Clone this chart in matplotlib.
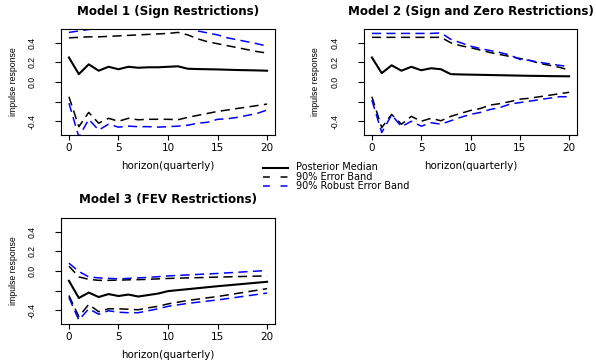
import numpy as np
from matplotlib import pyplot as plt
from matplotlib.lines import Line2D

plt.rcParams['font.family'] = ['DejaVu Sans']

horizon = np.arange(21)

# Model 1 (Sign Restrictions)
m1_median = [0.25, 0.08, 0.18, 0.115, 0.155, 0.13, 0.155, 0.145, 0.15, 0.15, 0.155,
             0.16, 0.135, 0.132, 0.13, 0.128, 0.125, 0.122, 0.12, 0.118, 0.115]
m1_upper = [0.45, 0.455, 0.46, 0.46, 0.465, 0.47, 0.475, 0.48, 0.485, 0.49, 0.495,
            0.505, 0.48, 0.44, 0.41, 0.39, 0.37, 0.35, 0.33, 0.31, 0.295]
m1_lower = [-0.15, -0.455, -0.31, -0.42, -0.37, -0.40, -0.37, -0.385, -0.38, -0.38, -0.38,
            -0.385, -0.36, -0.34, -0.32, -0.30, -0.285, -0.27, -0.255, -0.24, -0.225]
m1_rob_upper = [0.505, 0.52, 0.535, 0.55, 0.555, 0.56, 0.56, 0.565, 0.57, 0.57, 0.575,
                0.58, 0.57, 0.52, 0.5, 0.48, 0.45, 0.43, 0.41, 0.39, 0.365]
m1_rob_lower = [-0.215, -0.56, -0.38, -0.49, -0.43, -0.46, -0.45, -0.455, -0.455, -0.46, -0.455,
                -0.45, -0.44, -0.42, -0.41, -0.38, -0.375, -0.36, -0.34, -0.32, -0.285]

# Model 2 (Sign and Zero Restrictions)
m2_median = [0.25, 0.09, 0.17, 0.115, 0.155, 0.12, 0.14, 0.13, 0.08, 0.077, 0.075,
             0.073, 0.071, 0.069, 0.067, 0.065, 0.063, 0.062, 0.06, 0.059, 0.058]
m2_upper = [0.455, 0.455, 0.455, 0.455, 0.455, 0.455, 0.455, 0.455, 0.4, 0.37, 0.35,
            0.325, 0.3, 0.28, 0.26, 0.24, 0.22, 0.19, 0.17, 0.15, 0.122]
m2_lower = [-0.15, -0.465, -0.33, -0.43, -0.35, -0.40, -0.37, -0.395, -0.35, -0.32, -0.29,
            -0.27, -0.235, -0.22, -0.2, -0.175, -0.165, -0.15, -0.135, -0.12, -0.105]
m2_rob_upper = [0.495, 0.495, 0.495, 0.495, 0.495, 0.495, 0.495, 0.5, 0.435, 0.4, 0.366,
                0.34, 0.32, 0.3, 0.275, 0.23, 0.22, 0.2, 0.185, 0.17, 0.156]
m2_rob_lower = [-0.185, -0.515, -0.335, -0.455, -0.4, -0.45, -0.415, -0.43, -0.395, -0.36, -0.33,
                -0.31, -0.28, -0.26, -0.225, -0.21, -0.195, -0.18, -0.165, -0.15, -0.15]

# Model 3 (FEV Restrictions)
m3_median = [-0.1, -0.275, -0.22, -0.265, -0.235, -0.255, -0.24, -0.26, -0.245, -0.23, -0.205,
             -0.195, -0.185, -0.175, -0.165, -0.155, -0.146, -0.137, -0.128, -0.119, -0.11]
m3_upper = [0.05, -0.06, -0.085, -0.095, -0.095, -0.093, -0.09, -0.088, -0.085, -0.08, -0.076,
            -0.073, -0.07, -0.068, -0.065, -0.062, -0.06, -0.057, -0.055, -0.052, -0.05]
m3_lower = [-0.25, -0.465, -0.34, -0.415, -0.385, -0.385, -0.39, -0.395, -0.375, -0.36, -0.335,
            -0.318, -0.3, -0.287, -0.273, -0.26, -0.244, -0.228, -0.212, -0.196, -0.18]
m3_rob_upper = [0.08, -0.005, -0.06, -0.07, -0.075, -0.08, -0.075, -0.07, -0.065, -0.058, -0.05,
                -0.045, -0.04, -0.035, -0.03, -0.025, -0.019, -0.013, -0.007, -0.001, 0.005]
m3_rob_lower = [-0.27, -0.5, -0.385, -0.44, -0.405, -0.42, -0.425, -0.425, -0.405, -0.385, -0.36,
                -0.345, -0.33, -0.318, -0.306, -0.295, -0.281, -0.267, -0.253, -0.239, -0.225]

titles = ["Model 1 (Sign Restrictions)", "Model 2 (Sign and Zero Restrictions)",
          "Model 3 (FEV Restrictions)"]
legend_labels = ["Posterior Median", "90% Error Band", "90% Robust Error Band"]

W, H = 596, 361
fig = plt.figure(figsize=(W / 100, H / 100), dpi=100)

DASH = (6, 3.5)
MED_LW = 1.5
BAND_LW = 1.1


def px(x, y):
    return x / W, 1 - y / H


def panel(left, top, width, height, title, med, up, lo, rup, rlo):
    x0, y1 = px(left, top)
    ax = fig.add_axes([x0, y1 - height / H, width / W, height / H])
    ax.plot(horizon, med, 'k-', lw=MED_LW)
    for band in (up, lo):
        ax.plot(horizon, band, color='black', lw=BAND_LW, dashes=DASH)
    for band in (rup, rlo):
        ax.plot(horizon, band, color='blue', lw=BAND_LW, dashes=DASH)
    ax.set_xlim(-0.8, 20.8)
    ax.set_ylim(-0.54, 0.54)
    ax.set_xticks([0, 5, 10, 15, 20])
    ax.set_yticks([-0.4, -0.2, 0.0, 0.2, 0.4])
    ax.set_yticklabels(["-0.4", "", "0.0", "0.2", "0.4"], rotation=90, va='center',
                       family='Liberation Sans', fontsize=6.2)
    ax.tick_params(axis='x', labelsize=7.5, length=3.6, width=0.8, pad=2)
    ax.tick_params(axis='y', length=4.3, width=0.8, pad=13)
    for s in ax.spines.values():
        s.set_linewidth(0.8)
    cx = left + width / 2
    fig.text(*px(cx, top - 18), title, ha='center', va='center',
             fontsize=8.6, fontweight='bold')
    fig.text(*px(cx, top + height + 31), "horizon(quarterly)", ha='center', va='center',
             fontsize=7.4)
    fig.text(*px(left - 48, top + height / 2), "impulse response", ha='center',
             va='center', rotation=90, fontsize=6.3, family='Liberation Sans')
    return ax


panel(61, 29, 214, 106, titles[0], m1_median, m1_upper, m1_lower, m1_rob_upper, m1_rob_lower)
panel(364, 29, 213, 106, titles[1], m2_median, m2_upper, m2_lower, m2_rob_upper, m2_rob_lower)
panel(61, 218, 214, 106, titles[2], m3_median, m3_upper, m3_lower, m3_rob_upper, m3_rob_lower)

# legend, placed in the gap between the panels
styles = [dict(color='black', lw=MED_LW), dict(color='black', lw=BAND_LW, dashes=(4.5, 7)),
          dict(color='blue', lw=BAND_LW, dashes=(4.5, 7))]
for i, (lab, st) in enumerate(zip(legend_labels, styles)):
    yy = 167.5 + 9.5 * i
    fig.add_artist(Line2D([263 / W, 288 / W], [1 - yy / H] * 2, transform=fig.transFigure, **st))
    fig.text(*px(296, yy), lab, ha='left', va='center', fontsize=7)

fig.savefig("out.png", dpi=100)
